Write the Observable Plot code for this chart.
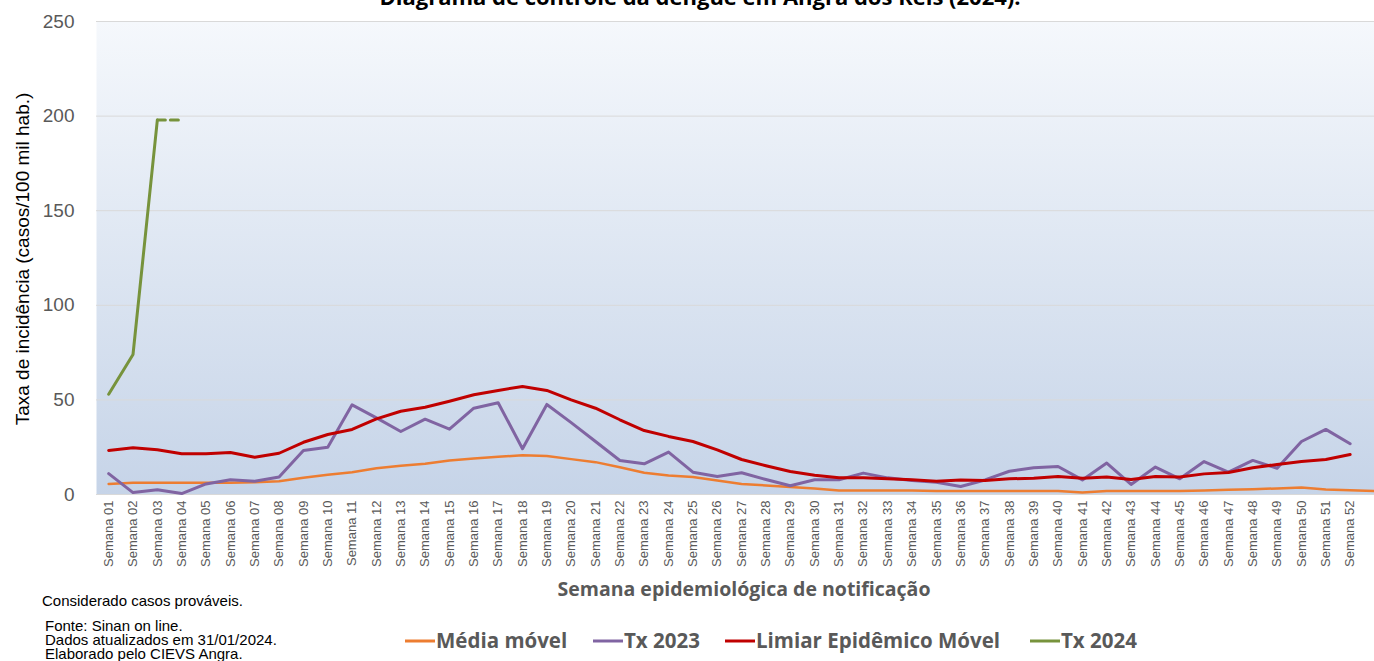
<!DOCTYPE html>
<html>
<head>
<meta charset="utf-8">
<script src="https://cdn.jsdelivr.net/npm/d3@7"></script>
<script src="https://cdn.jsdelivr.net/npm/@observablehq/plot@0.6"></script>
<style>
  html, body { margin: 0; padding: 0; background: #ffffff; overflow: hidden; }
  #wrap { position: relative; width: 1374px; height: 661px; }
  #chart { position: absolute; left: 0; top: 0; }
  #overlay { position: absolute; left: 0; top: 0; pointer-events: none; }
</style>
</head>
<body>
<div id="wrap">
  <div id="chart"></div>
  <svg id="overlay" width="1374" height="661"></svg>
</div>
<script>
// ---- Data ----
const semanas = [
  "Semana 01","Semana 02","Semana 03","Semana 04","Semana 05","Semana 06","Semana 07","Semana 08","Semana 09","Semana 10",
  "Semana 11","Semana 12","Semana 13","Semana 14","Semana 15","Semana 16","Semana 17","Semana 18","Semana 19","Semana 20",
  "Semana 21","Semana 22","Semana 23","Semana 24","Semana 25","Semana 26","Semana 27","Semana 28","Semana 29","Semana 30",
  "Semana 31","Semana 32","Semana 33","Semana 34","Semana 35","Semana 36","Semana 37","Semana 38","Semana 39","Semana 40",
  "Semana 41","Semana 42","Semana 43","Semana 44","Semana 45","Semana 46","Semana 47","Semana 48","Semana 49","Semana 50",
  "Semana 51","Semana 52"
];
const yTicks = [0, 50, 100, 150, 200, 250];

// Média móvel (53 points: the last one runs to the right edge of the plot)
const mediaMovel = [5.6, 6.2, 6.2, 6.2, 6.2, 6.2, 6.5, 7.0, 8.8, 10.4,
  11.8, 13.9, 15.2, 16.2, 18.0, 19.0, 19.9, 20.8, 20.3, 18.7,
  17.1, 14.4, 11.5, 10.0, 9.2, 7.4, 5.6, 4.8, 3.9, 3.2,
  2.1, 2.1, 2.1, 2.1, 1.8, 1.8, 1.8, 1.8, 1.8, 1.8,
  1.1, 1.8, 1.8, 1.8, 1.8, 2.1, 2.5, 2.8, 3.2, 3.7, 2.6, 2.3, 1.8];

const tx2023 = [11, 1, 2.5, 0.5, 5.6, 7.8, 7.0, 9.2, 23.3, 25.0,
  47.4, 40.5, 33.3, 39.8, 34.5, 45.6, 48.5, 24.2, 47.6, 38,
  28, 18.0, 16.2, 22.4, 11.8, 9.5, 11.5, 7.9, 4.6, 7.8,
  7.8, 11.3, 8.8, 7.4, 6.5, 4.2, 7.7, 12.3, 14.1, 14.8,
  7.7, 16.6, 5.3, 14.5, 8.3, 17.4, 11.8, 18.0, 13.9, 28.0, 34.4, 26.8];

const limiar = [23.3, 24.7, 23.6, 21.5, 21.5, 22.2, 19.7, 21.8, 27.6, 31.7,
  34.4, 40.0, 44.0, 46.1, 49.3, 52.7, 55.0, 57.1, 55.0, 50.0,
  45.6, 39.5, 33.8, 30.7, 28.0, 23.6, 18.5, 15.2, 12.2, 10.2,
  8.8, 8.8, 8.3, 7.8, 7.0, 7.6, 7.4, 8.3, 8.6, 9.5,
  8.6, 9.2, 7.9, 9.5, 9.2, 10.9, 11.6, 14.1, 15.9, 17.4, 18.5, 21.1];

const tx2024 = [53, 74, 198];
const tx2024Projecao = [198, 198]; // dashed continuation, weeks 3 -> 4

const seriesNames = ["Média móvel", "Tx 2023", "Limiar Epidêmico Móvel", "Tx 2024"];
const seriesColors = ["#ED7D31", "#8064A2", "#C00000", "#77933C"];

// ---- Tables built from the arrays ----
const toRows = (arr, start = 1) => arr.map((v, i) => ({week: i + start, v}));
const mmRows = toRows(mediaMovel);
const t23Rows = toRows(tx2023);
const limRows = toRows(limiar);
const t24Rows = toRows(tx2024);
const t24ProjRows = toRows(tx2024Projecao, 3);

const weekPos = semanas.map((_, i) => i + 1);

const chart = Plot.plot({
  width: 1374,
  height: 575,
  marginLeft: 96,
  marginRight: 0,
  marginTop: 21,
  marginBottom: 81,
  style: {background: "transparent", fontFamily: "'Liberation Sans', Arial, sans-serif"},
  x: {type: "linear", domain: [0.5, 53], axis: null},
  y: {domain: [0, 250], axis: null},
  marks: [
    Plot.frame({fill: "url(#bgGrad)", stroke: null}),
    Plot.gridY(yTicks, {stroke: "#d9d9d9", strokeOpacity: 1, strokeWidth: 1}),
    Plot.axisY(yTicks, {tickSize: 0, tickPadding: 22, fontSize: 19, color: "#595959", label: null}),
    Plot.axisX(weekPos, {tickSize: 0, tickPadding: 6, tickRotate: -90, fontSize: 13,
      color: "#595959", label: null, tickFormat: d => semanas[d - 1]}),
    Plot.line(mmRows, {x: "week", y: "v", stroke: seriesColors[0], strokeWidth: 2.5}),
    Plot.line(t23Rows, {x: "week", y: "v", stroke: seriesColors[1], strokeWidth: 3}),
    Plot.line(limRows, {x: "week", y: "v", stroke: seriesColors[2], strokeWidth: 3}),
    Plot.line(t24Rows, {x: "week", y: "v", stroke: seriesColors[3], strokeWidth: 3}),
    Plot.line(t24ProjRows, {x: "week", y: "v", stroke: seriesColors[3], strokeWidth: 3, strokeDasharray: "8,5"})
  ]
});

// gradient background for the plot frame
const defs = d3.select(chart).insert("defs", ":first-child");
const grad = defs.append("linearGradient").attr("id", "bgGrad")
  .attr("x1", 0).attr("y1", 0).attr("x2", 0).attr("y2", 1);
grad.append("stop").attr("offset", "0%").attr("stop-color", "#F5F8FC");
grad.append("stop").attr("offset", "100%").attr("stop-color", "#C6D4E8");

document.getElementById("chart").appendChild(chart);

// ---- Overlay texts: title, axis titles, notes, legend ----
const ov = d3.select("#overlay");
const bold = "'Open Sans', 'DejaVu Sans', sans-serif";

ov.append("text").attr("x", 700).attr("y", 5).attr("text-anchor", "middle")
  .style("font-family", bold).style("font-weight", "bold").style("font-size", "22px").style("fill", "#000")
  .text("Diagrama de controle da dengue em Angra dos Reis (2024).");

ov.append("text").attr("transform", "translate(29,259) rotate(-90)").attr("text-anchor", "middle")
  .style("font-family", "'Liberation Sans', Arial, sans-serif").style("font-size", "19px").style("fill", "#000")
  .text("Taxa de incidência (casos/100 mil hab.)");

ov.append("text").attr("x", 744).attr("y", 596).attr("text-anchor", "middle")
  .style("font-family", bold).style("font-weight", "bold").style("font-size", "19.5px").style("fill", "#595959")
  .text("Semana epidemiológica de notificação");

const noteFont = "'Liberation Sans', Arial, sans-serif";
ov.append("text").attr("x", 42).attr("y", 606)
  .style("font-family", noteFont).style("font-size", "15px").style("fill", "#000")
  .text("Considerado casos prováveis.");
["Fonte: Sinan on line.", "Dados atualizados em 31/01/2024.", "Elaborado pelo CIEVS Angra."].forEach((t, i) => {
  ov.append("text").attr("x", 45).attr("y", 630.5 + i * 14.3)
    .style("font-family", noteFont).style("font-size", "15px").style("fill", "#000").text(t);
});

// legend
const legendX = [405, 593, 725, 1030];
seriesNames.forEach((name, i) => {
  const g = ov.append("g").attr("transform", `translate(${legendX[i]},641)`);
  g.append("line").attr("x1", 0).attr("x2", 30).attr("y1", 0).attr("y2", 0)
    .attr("stroke", seriesColors[i]).attr("stroke-width", 3);
  g.append("text").attr("x", 31).attr("y", 7)
    .style("font-family", bold).style("font-weight", "bold").style("font-size", "20.5px").style("fill", "#595959")
    .text(name);
});
</script>
</body>
</html>
